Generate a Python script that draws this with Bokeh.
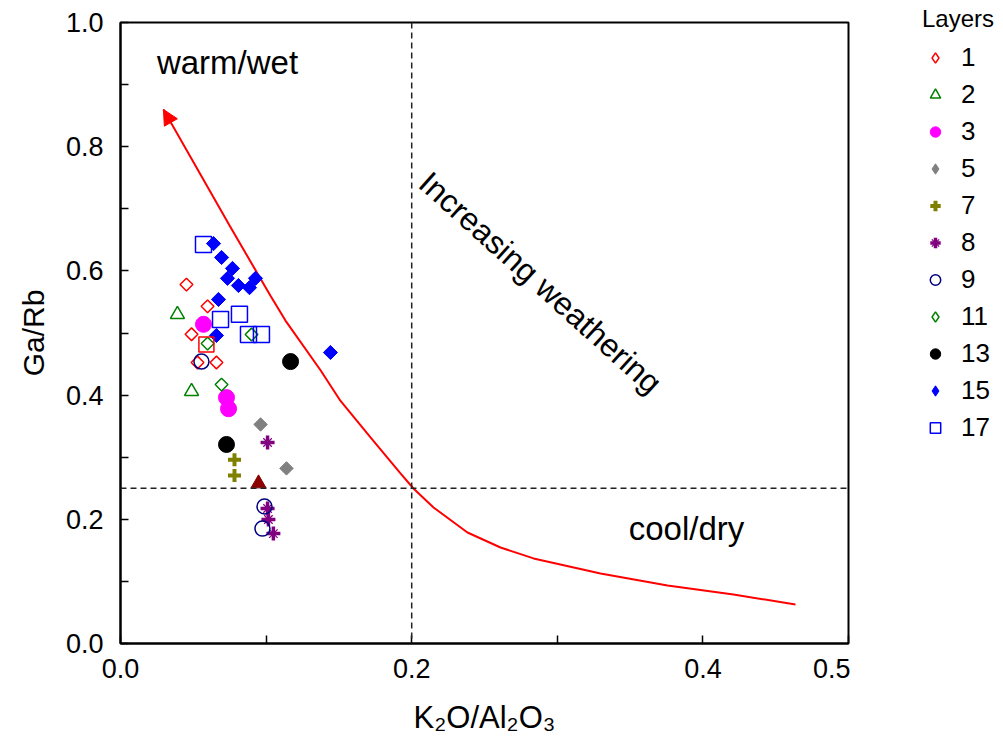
import math
from bokeh.plotting import figure
from bokeh.layouts import row
from bokeh.models import FixedTicker, Span, Label, Arrow, NormalHead, Legend, LegendItem, Range1d
from bokeh.embed import file_html
from bokeh.resources import INLINE

# ---------------- data ----------------
l1_x = [0.0453, 0.0598, 0.0488, 0.0529, 0.0659]
l1_y = [0.578, 0.543, 0.498, 0.4525, 0.4525]
l2_x = [0.0391, 0.0488]
l2_y = [0.530, 0.406]
l3_x = [0.057, 0.0728, 0.0742]
l3_y = [0.514, 0.396, 0.378]
l5_x = [0.0962, 0.114]
l5_y = [0.3527, 0.282]
l7_x = [0.0783, 0.0783]
l7_y = [0.296, 0.2705]
l8_x = [0.101, 0.101, 0.1016, 0.105]
l8_y = [0.3237, 0.2174, 0.1997, 0.177]
l9_x = [0.0556, 0.0989, 0.0975]
l9_y = [0.454, 0.2206, 0.185]
l11_x = [0.0598, 0.090, 0.0694]
l11_y = [0.483, 0.4976, 0.417]
l13_x = [0.0728, 0.1168]
l13_y = [0.3205, 0.454]
l15_x = [0.0639, 0.0694, 0.0769, 0.0735, 0.081, 0.0886, 0.0927, 0.0673, 0.0659, 0.1442]
l15_y = [0.644, 0.6216, 0.604, 0.588, 0.5765, 0.573, 0.588, 0.554, 0.496, 0.4686]
l17_x = [0.057, 0.0687, 0.0817, 0.0879, 0.0968]
l17_y = [0.6425, 0.5217, 0.530, 0.4976, 0.4976]
# unlabelled extra points
extra_sq_x = [0.059]
extra_sq_y = [0.4815]
extra_tri_x = [0.0948]
extra_tri_y = [0.2576]

# weathering trend curve
curve_x = [0.0295, 0.0749, 0.103, 0.1133, 0.1374, 0.151, 0.1717, 0.1923, 0.2012,
           0.215, 0.2383, 0.261, 0.2837, 0.3297, 0.3757, 0.421, 0.4636]
curve_y = [0.860, 0.673, 0.560, 0.520, 0.440, 0.391, 0.332, 0.274, 0.2496,
           0.219, 0.1787, 0.1546, 0.137, 0.1127, 0.0934, 0.0789, 0.0628]

thresh_x = 0.2
thresh_y = 0.25

x_ticks = [0.0, 0.1, 0.2, 0.3, 0.4, 0.5]
x_tick_labels = ["0.0", "", "0.2", "", "0.4", "0.5"]
y_ticks = [0.0, 0.1, 0.2, 0.3, 0.4, 0.5, 0.6, 0.7, 0.8, 0.9, 1.0]
y_tick_labels = ["0.0", "", "0.2", "", "0.4", "", "0.6", "", "0.8", "", "1.0"]

FONT = "Liberation Sans"
D45 = math.pi / 4

# (label, x, y, main-plot style, legend marker, legend size)
layers = [
    ("1", l1_x, l1_y, dict(marker="square", angle=D45, size=9, fill_color=None, line_color="red", line_width=1.5), "diamond", 12),
    ("2", l2_x, l2_y, dict(marker="triangle", size=14, fill_color=None, line_color="#008000", line_width=1.5), "triangle", 12),
    ("3", l3_x, l3_y, dict(marker="circle", size=16, fill_color="#FF00FF", line_color="#FF00FF"), "circle", 15),
    ("5", l5_x, l5_y, dict(marker="square", angle=D45, size=9.5, fill_color="#808080", line_color="#808080"), "diamond", 13),
    ("7", l7_x, l7_y, dict(marker="cross", size=13, line_color="#808000", line_width=4), "cross", 13),
    ("8", l8_x, l8_y, dict(marker="cross", size=14, line_color="#800080", line_width=3.5), "cross", 13),
    ("9", l9_x, l9_y, dict(marker="circle", size=15, fill_color=None, line_color="#000080", line_width=1.5), "circle", 14),
    ("11", l11_x, l11_y, dict(marker="square", angle=D45, size=9, fill_color=None, line_color="#008000", line_width=1.5), "diamond", 12),
    ("13", l13_x, l13_y, dict(marker="circle", size=16, fill_color="black", line_color="black"), "circle", 15),
    ("15", l15_x, l15_y, dict(marker="square", angle=D45, size=10, fill_color="#0000FF", line_color="#0000FF"), "diamond", 14),
    ("17", l17_x, l17_y, dict(marker="square", size=16, fill_color=None, line_color="#0000FF", line_width=1.5), "square", 14),
]

# ---------------- main plot ----------------
p = figure(width=850, height=745, x_range=(0, 0.5), y_range=(0, 1.0),
           output_backend="svg", toolbar_location=None)
p.min_border = 0
p.min_border_left = 120
p.min_border_right = 2
p.min_border_top = 22
p.min_border_bottom = 102
p.grid.visible = False
p.outline_line_color = "black"
p.outline_line_width = 2
p.outline_line_alpha = 1.0
p.background_fill_color = "white"
p.border_fill_color = "white"

for ax in (p.xaxis[0], p.yaxis[0]):
    ax.axis_line_width = 2
    ax.axis_line_color = "black"
    ax.major_tick_in = 8
    ax.major_tick_out = 0
    ax.major_tick_line_width = 1.5
    ax.minor_tick_line_color = None
    ax.major_label_text_font = FONT
    ax.major_label_text_font_size = "27px"
    ax.major_label_text_color = "black"
    ax.axis_label_text_font = FONT
    ax.axis_label_text_font_style = "normal"
    ax.axis_label_text_color = "black"

p.xaxis.axis_label_text_font_size = "31px"
p.yaxis.axis_label_text_font_size = "30px"
p.xaxis.ticker = FixedTicker(ticks=x_ticks)
p.xaxis.major_label_overrides = {t: s for t, s in zip(x_ticks, x_tick_labels)}
p.yaxis.ticker = FixedTicker(ticks=y_ticks)
p.yaxis.major_label_overrides = {t: s for t, s in zip(y_ticks, y_tick_labels)}
p.xaxis.axis_label = "K\u2082O/Al\u2082O\u2083"
p.yaxis.axis_label = "Ga/Rb"
p.xaxis.major_label_standoff = 15
p.yaxis.major_label_standoff = 17
p.xaxis.axis_label_standoff = 19
p.yaxis.axis_label_standoff = 13

# threshold lines
p.add_layout(Span(location=thresh_x, dimension="height", line_color="#222222",
                  line_dash="6 4", line_width=1.5))
p.add_layout(Span(location=thresh_y, dimension="width", line_color="#222222",
                  line_dash="6 4", line_width=1.5))

# curve + arrow head
p.line(curve_x, curve_y, line_color="red", line_width=2)
p.add_layout(Arrow(end=NormalHead(size=15, fill_color="red", line_color="red", line_width=1),
                   x_start=curve_x[1], y_start=curve_y[1], x_end=curve_x[0], y_end=curve_y[0],
                   line_alpha=0))

for lab, xs, ys, style, _, _ in layers:
    p.scatter(xs, ys, **style)
    if lab == "8":
        p.scatter(xs, ys, marker="x", size=12, line_color="#800080", line_width=1.2)

p.scatter(extra_sq_x, extra_sq_y, marker="square", size=15, fill_color=None, line_color="red", line_width=1.5)
p.scatter(extra_tri_x, extra_tri_y, marker="triangle", size=15, fill_color="#8B0000", line_color="#8B0000")

# text annotations
p.add_layout(Label(x=0.0735, y=0.9356, text="warm/wet", text_font=FONT, text_font_size="33px",
                   text_color="black", text_align="center", text_baseline="middle"))
p.add_layout(Label(x=0.3887, y=0.185, text="cool/dry", text_font=FONT, text_font_size="33px",
                   text_color="black", text_align="center", text_baseline="middle"))
p.add_layout(Label(x=0.2885, y=0.581, text="Increasing weathering", text_font=FONT, text_font_size="32px",
                   text_color="black", text_align="center", text_baseline="middle",
                   angle=-42 * math.pi / 180))

# ---------------- legend panel (same series, kept outside its visible range) ----------------
lg = figure(width=145, height=745, x_range=Range1d(10, 11), y_range=Range1d(10, 11),
            output_backend="svg", toolbar_location=None, x_axis_type=None, y_axis_type=None)
lg.min_border = 0
lg.outline_line_color = None
lg.background_fill_color = "white"
lg.border_fill_color = "white"

items = []
for lab, xs, ys, style, lmark, lsize in layers:
    st = {k: v for k, v in style.items() if k not in ("marker", "angle", "size")}
    r = lg.scatter(xs, ys, marker=lmark, size=lsize, **st)
    rs = [r]
    if lab == "8":
        rs.append(lg.scatter(xs, ys, marker="x", size=11, line_color="#800080", line_width=1.2))
    items.append(LegendItem(label=lab, renderers=rs))

legend = Legend(items=items, location=(72, 197), title="Layers",
                title_text_font=FONT, title_text_font_size="24px", title_text_font_style="normal",
                title_text_color="black",
                label_text_font=FONT, label_text_font_size="26px", label_text_color="black",
                glyph_width=26, glyph_height=37, label_height=37, spacing=0, padding=0,
                label_standoff=13, border_line_alpha=0, background_fill_alpha=0,
                margin=0, title_standoff=6)
lg.add_layout(legend, "left")

layout = row(p, lg)
open("out.html", "w").write(file_html(layout, INLINE))
